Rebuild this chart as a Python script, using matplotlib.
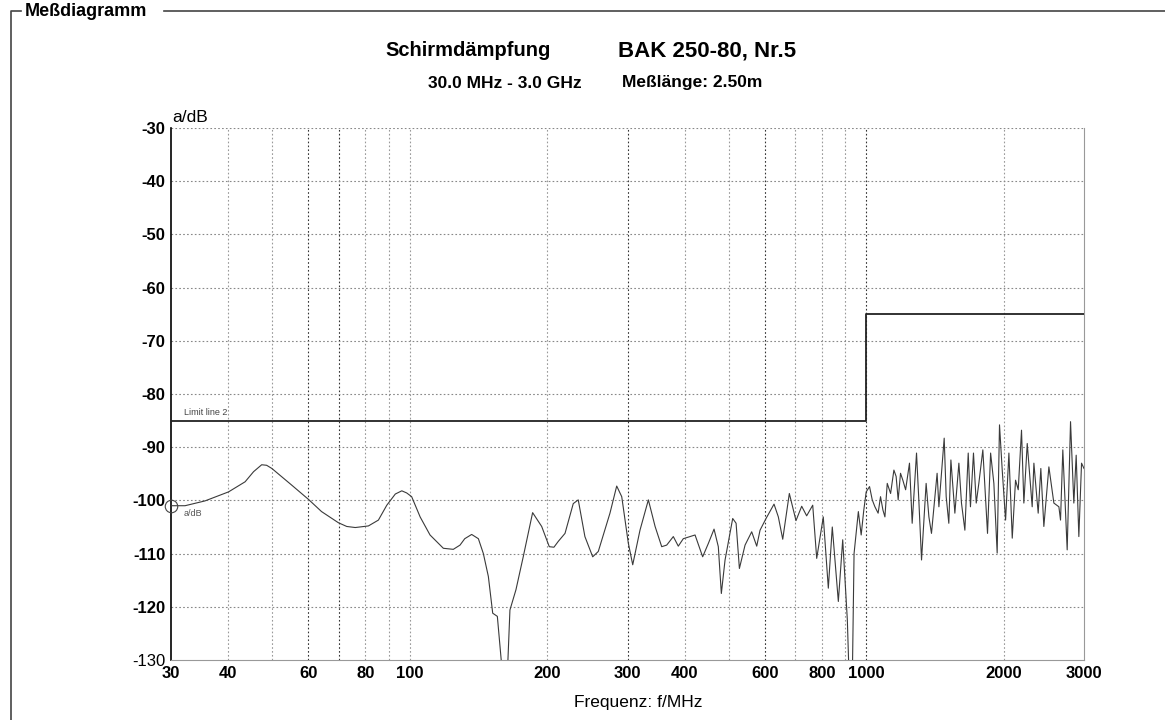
import matplotlib.pyplot as plt
from matplotlib.lines import Line2D

plt.rcParams['font.family'] = ['Liberation Sans', 'DejaVu Sans']

# measured trace: frequency in MHz, attenuation a in dB
freq_mhz = [
    30, 32.2, 35.6, 40.1, 43.6, 45.5, 47.4, 48.6, 49.9, 55.1, 60, 64.1, 69.8, 72.8, 76, 81.2, 85.4, 89.1,
    93, 96.1, 98.5, 101,
    105.4, 110.8, 118.5, 124.6, 128.9, 132, 136.7, 141.4, 145, 148.7, 152, 155.6, 159.8, 163.6, 165.8,
    170.9, 177.3, 185.9, 194.6, 202.2, 207, 211.6, 218.9, 228.2, 234, 242, 251.7, 258.9, 274.6,
    284.1, 291.4, 301.2, 308, 319.5, 333.3,
    344.8, 356.5, 365.6, 378, 387.6, 397.5, 411.3, 421.8, 438.3, 451, 464.2, 474.3, 481.6, 490.7,
    510, 518.8, 527.5, 542.8, 561.3, 575.7, 585.4, 603.4, 628.2, 642, 656.4, 678.6, 701.8, 722.3,
    740.6, 763.6, 779.1, 805.4, 826.1, 842.8, 868.9, 888.3, 909.3, 917.2, 932.6, 940.6, 961.2,
    975, 988, 1000,
    1017, 1031, 1045, 1062, 1075, 1088, 1099, 1112, 1131, 1150, 1163, 1175, 1189, 1203, 1220,
    1244, 1261, 1289, 1304, 1322, 1353, 1372, 1390, 1430, 1443, 1482, 1497, 1517, 1533, 1564,
    1596, 1617, 1645, 1673, 1692, 1718, 1742, 1765, 1801, 1844, 1873, 1904, 1936, 1959, 1986,
    2020, 2054, 2089, 2124, 2153, 2189, 2215, 2253, 2310, 2330, 2381, 2413, 2450, 2513, 2577,
    2643, 2665, 2696, 2756, 2803, 2850, 2884, 2923, 2963, 3000,
]
a_db = [
    -101, -101, -100.1, -98.4, -96.5, -94.6, -93.3, -93.4, -94, -97.1, -99.8, -102.1, -104.2, -104.9, -105.1, -104.8, -103.7, -100.9,
    -98.8, -98.2, -98.6, -99.3,
    -103.1, -106.5, -109, -109.2, -108.4, -107.2, -106.4, -107.2, -110, -114.3, -121.2, -121.8, -133, -133, -120.6,
    -116.8, -110.6, -102.3, -104.9, -108.7, -108.8, -107.7, -106.2, -100.6, -99.9, -106.8, -110.6, -109.6, -102.4,
    -97.3, -99.3, -108, -112.1, -105.6, -99.9,
    -104.9, -108.7, -108.4, -106.8, -108.6, -107.2, -106.8, -106.5, -110.6, -108.1, -105.4, -108.7, -117.5, -111.2,
    -103.4, -104.3, -112.8, -108.4, -105.9, -108.6, -105.6, -103.4, -100.7, -103.1, -107.3, -98.7, -103.8, -101.1,
    -102.9, -100.9, -110.9, -103.1, -116.5, -105, -119, -107.4, -122.5, -133, -133, -110, -102.1,
    -106.5, -101.8, -98.4,
    -97.4, -99.9, -101.2, -102.4, -99.3, -101.8, -103.1, -96.8, -98.7, -94.3, -95.5, -99.9, -94.9, -96.2, -98.0,
    -93.0, -104.3, -91.1, -99.9, -111.2, -96.8, -103.1, -106.2, -94.9, -101.2, -88.3, -99.3, -104.3, -92.4, -102.4,
    -93.0, -100.5, -105.6, -91.1, -101.2, -91.1, -100.5, -96.8, -90.5, -106.2, -91.1, -96.8, -109.9, -85.8, -94.3,
    -103.7, -91.1, -107.1, -96.2, -98.0, -86.8, -100.5, -89.3, -101.2, -93.0, -102.4, -94.0, -104.9, -93.7, -100.5,
    -101.2, -103.7, -90.5, -109.3, -85.2, -100.5, -91.5, -106.8, -93.0, -94.0,
]

# limit line 2
limit_f = [30, 1000, 1000, 3000]
limit_db = [-85, -85, -65, -65]

x_ticks = [30, 40, 60, 80, 100, 200, 300, 400, 600, 800, 1000, 2000, 3000]
x_grid = [40, 50, 60, 70, 80, 90, 100, 200, 300, 400, 500, 600, 700, 800, 900, 1000, 2000]
x_grid_dark = [60, 70, 300, 600, 1000]
y_ticks = [-30, -40, -50, -60, -70, -80, -90, -100, -110, -120, -130]

W, H = 1165, 720
fig = plt.figure(figsize=(W / 100, H / 100), dpi=100)
ax = fig.add_axes([171 / W, 60 / H, 913 / W, 532 / H])
ax.set_xscale('log')
ax.set_xlim(30, 3000)
ax.set_ylim(-130, -30)

# grid
for g in x_grid:
    c = '#333333' if g in x_grid_dark else '#999999'
    ax.axvline(g, color=c, lw=0.8, ls=(0, (1.5, 2)), zorder=1)
for g in y_ticks[:-1]:
    ax.axhline(g, color='#888888', lw=0.8, ls=(0, (1.5, 2)), zorder=1)

ax.plot(limit_f, limit_db, color='#222222', lw=1.3, zorder=3)
ax.plot(freq_mhz, a_db, color='#3a3a3a', lw=0.8, zorder=4)

ax.text(32, -84.3, 'Limit line 2', fontsize=6.5, color='#444444', va='bottom')
ax.text(32, -101.7, 'a/dB', fontsize=6.5, color='#555555', va='top')
ax.plot([30], [-101], marker='o', ms=9, mfc='none', mec='#444444', mew=0.8, clip_on=False, zorder=5)

ax.set_xticks(x_ticks)
ax.set_xticklabels([str(t) for t in x_ticks], fontweight='bold', fontsize=12)
ax.xaxis.set_minor_locator(plt.NullLocator())
ax.set_yticks(y_ticks)
ax.set_yticklabels([str(t) for t in y_ticks], fontweight='bold', fontsize=12)
ax.get_yticklabels()[-1].set_fontweight('normal')
ax.tick_params(length=0, pad=4)

ax.spines['top'].set_visible(False)
ax.spines['left'].set_color('black')
ax.spines['left'].set_linewidth(1.2)
ax.spines['bottom'].set_color('#999999')
ax.spines['right'].set_color('#999999')

fig.text(172 / W, 1 - 117 / H, 'a/dB', fontsize=12.5, va='center', ha='left')
fig.text(385 / W, 1 - 51 / H, 'Schirmdämpfung', fontsize=14.5, fontweight='bold', ha='left', va='center')
fig.text(618 / W, 1 - 51 / H, 'BAK 250-80, Nr.5', fontsize=16, fontweight='bold', ha='left', va='center')
fig.text(428 / W, 1 - 83 / H, '30.0 MHz - 3.0 GHz', fontsize=12.5, fontweight='bold', ha='left', va='center')
fig.text(622 / W, 1 - 83 / H, 'Meßlänge: 2.50m', fontsize=12.5, fontweight='bold', ha='left', va='center')
fig.text(638 / W, 1 - 702 / H, 'Frequenz: f/MHz', fontsize=12.5, ha='center', va='center')

# group box frame
fig.text(25 / W, 1 - 11 / H, 'Meßdiagramm', fontsize=13, fontweight='bold', ha='left', va='center')
fig.add_artist(Line2D([11 / W, 11 / W, 21 / W], [0, 1 - 11 / H, 1 - 11 / H], color='#444444', lw=1.2))
fig.add_artist(Line2D([164 / W, 1], [1 - 11 / H, 1 - 11 / H], color='#444444', lw=1.2))

fig.savefig('out.png', dpi=100)
